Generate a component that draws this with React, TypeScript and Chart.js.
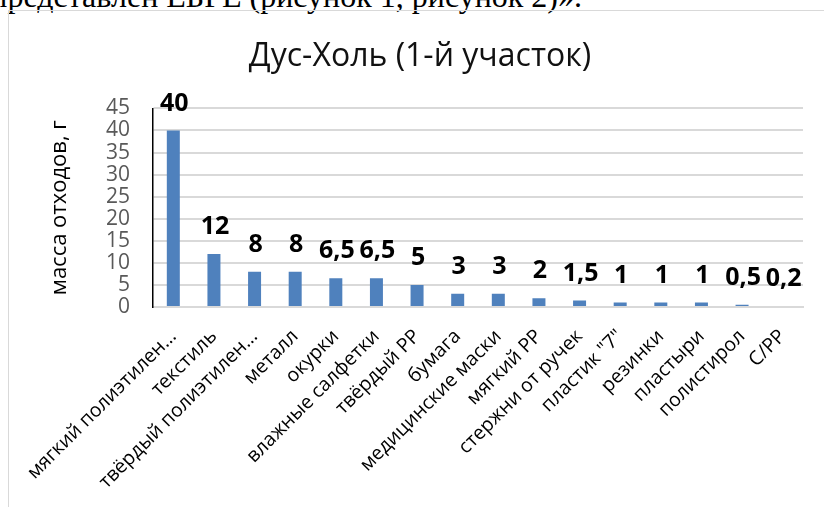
import React, { useEffect, useRef } from "react";
import { Chart, registerables } from "chart.js";

Chart.register(...registerables);

// Waste categories collected at the site
const categories = [
  "мягкий полиэтилен…",
  "текстиль",
  "твёрдый полиэтилен…",
  "металл",
  "окурки",
  "влажные салфетки",
  "твёрдый PP",
  "бумага",
  "медицинские маски",
  "мягкий PP",
  "стержни от ручек",
  "пластик \"7\"",
  "резинки",
  "пластыри",
  "полистирол",
  "C/PP",
];

// Mass of waste per category, grams
const masses = [40, 12, 8, 8, 6.5, 6.5, 5, 3, 3, 2, 1.5, 1, 1, 1, 0.5, 0.2];

// Value axis range
const yMin = 0;
const yMax = 45;
const yStep = 5;

const chartTitle = "Дус-Холь (1-й участок)";
const yTitle = "масса отходов, г";
const introText = "представлен ЕБРЕ (рисунок 1, рисунок 2)».";

const FONT = '"Open Sans", "Noto Sans", sans-serif';

// Bold value captions above each bar, comma as decimal separator
const barValueLabels = {
  id: "barValueLabels",
  afterDatasetsDraw(chart: any) {
    const { ctx } = chart;
    const meta = chart.getDatasetMeta(0);
    ctx.save();
    ctx.font = `bold 25px ${FONT}`;
    ctx.fillStyle = "#000000";
    ctx.textAlign = "center";
    ctx.textBaseline = "middle";
    meta.data.forEach((bar: any, i: number) => {
      const text = String(masses[i]).replace(".", ",");
      ctx.fillText(text, bar.x + 1, bar.y - 27);
    });
    ctx.restore();
  },
};

export default function App() {
  const canvasRef = useRef<HTMLCanvasElement>(null);

  useEffect(() => {
    document.body.style.margin = "0";
    const canvas = canvasRef.current;
    if (!canvas) return;
    const chart = new Chart(canvas, {
      type: "bar",
      data: {
        labels: categories,
        datasets: [
          {
            data: masses,
            backgroundColor: "#4f81bd",
            borderWidth: 0,
            barPercentage: 0.32,
            categoryPercentage: 1,
          },
        ],
      },
      options: {
        responsive: false,
        animation: false,
        layout: { padding: { left: 37, right: 21, top: 0, bottom: 0 } },
        plugins: {
          legend: { display: false },
          tooltip: { enabled: false },
          title: {
            display: true,
            text: chartTitle,
            color: "#111111",
            font: { family: FONT, size: 32, weight: "normal" },
            padding: { top: 38, bottom: 32 },
          },
        },
        scales: {
          x: {
            offset: true,
            grid: { display: false, drawTicks: false },
            border: { display: true, color: "#d9d9d9", width: 2 },
            ticks: {
              autoSkip: false,
              minRotation: 45,
              maxRotation: 45,
              padding: 18,
              color: "#000000",
              font: { family: FONT, size: 19.5 },
            },
            afterFit(scale: any) {
              scale.height = 200;
              scale.paddingLeft = 0;
              scale.paddingRight = 0;
            },
          },
          y: {
            min: yMin,
            max: yMax,
            grid: { color: "#d9d9d9", lineWidth: 2, drawTicks: false },
            border: { display: true, color: "#000000", width: 1.5 },
            ticks: {
              stepSize: yStep,
              autoSkip: false,
              padding: 23,
              color: "#595959",
              font: { family: FONT, size: 21 },
            },
            title: {
              display: true,
              text: yTitle,
              color: "#000000",
              font: { family: FONT, size: 22 },
              padding: { top: 10, bottom: 0 },
            },
            afterFit(scale: any) {
              scale.width = 116;
              scale.paddingTop = 0;
              scale.paddingBottom = 0;
            },
          },
        },
      },
      plugins: [barValueLabels],
    });
    return () => chart.destroy();
  }, []);

  return (
    <div
      style={{
        position: "relative",
        width: 824,
        height: 507,
        overflow: "hidden",
        background: "#ffffff",
      }}
    >
      <div
        style={{
          position: "absolute",
          right: 242,
          top: -20,
          fontFamily: '"Liberation Serif", "Times New Roman", serif',
          fontSize: 32,
          lineHeight: "32px",
          whiteSpace: "nowrap",
          color: "#000000",
        }}
      >
        {introText}
      </div>
      <div
        style={{
          position: "absolute",
          left: 8,
          top: 10,
          width: 900,
          height: 600,
          borderLeft: "1px solid #d9d9d9",
          borderTop: "1px solid #d9d9d9",
        }}
      />
      <canvas
        ref={canvasRef}
        width={824}
        height={507}
        style={{ position: "absolute", left: 0, top: 0 }}
      />
    </div>
  );
}
